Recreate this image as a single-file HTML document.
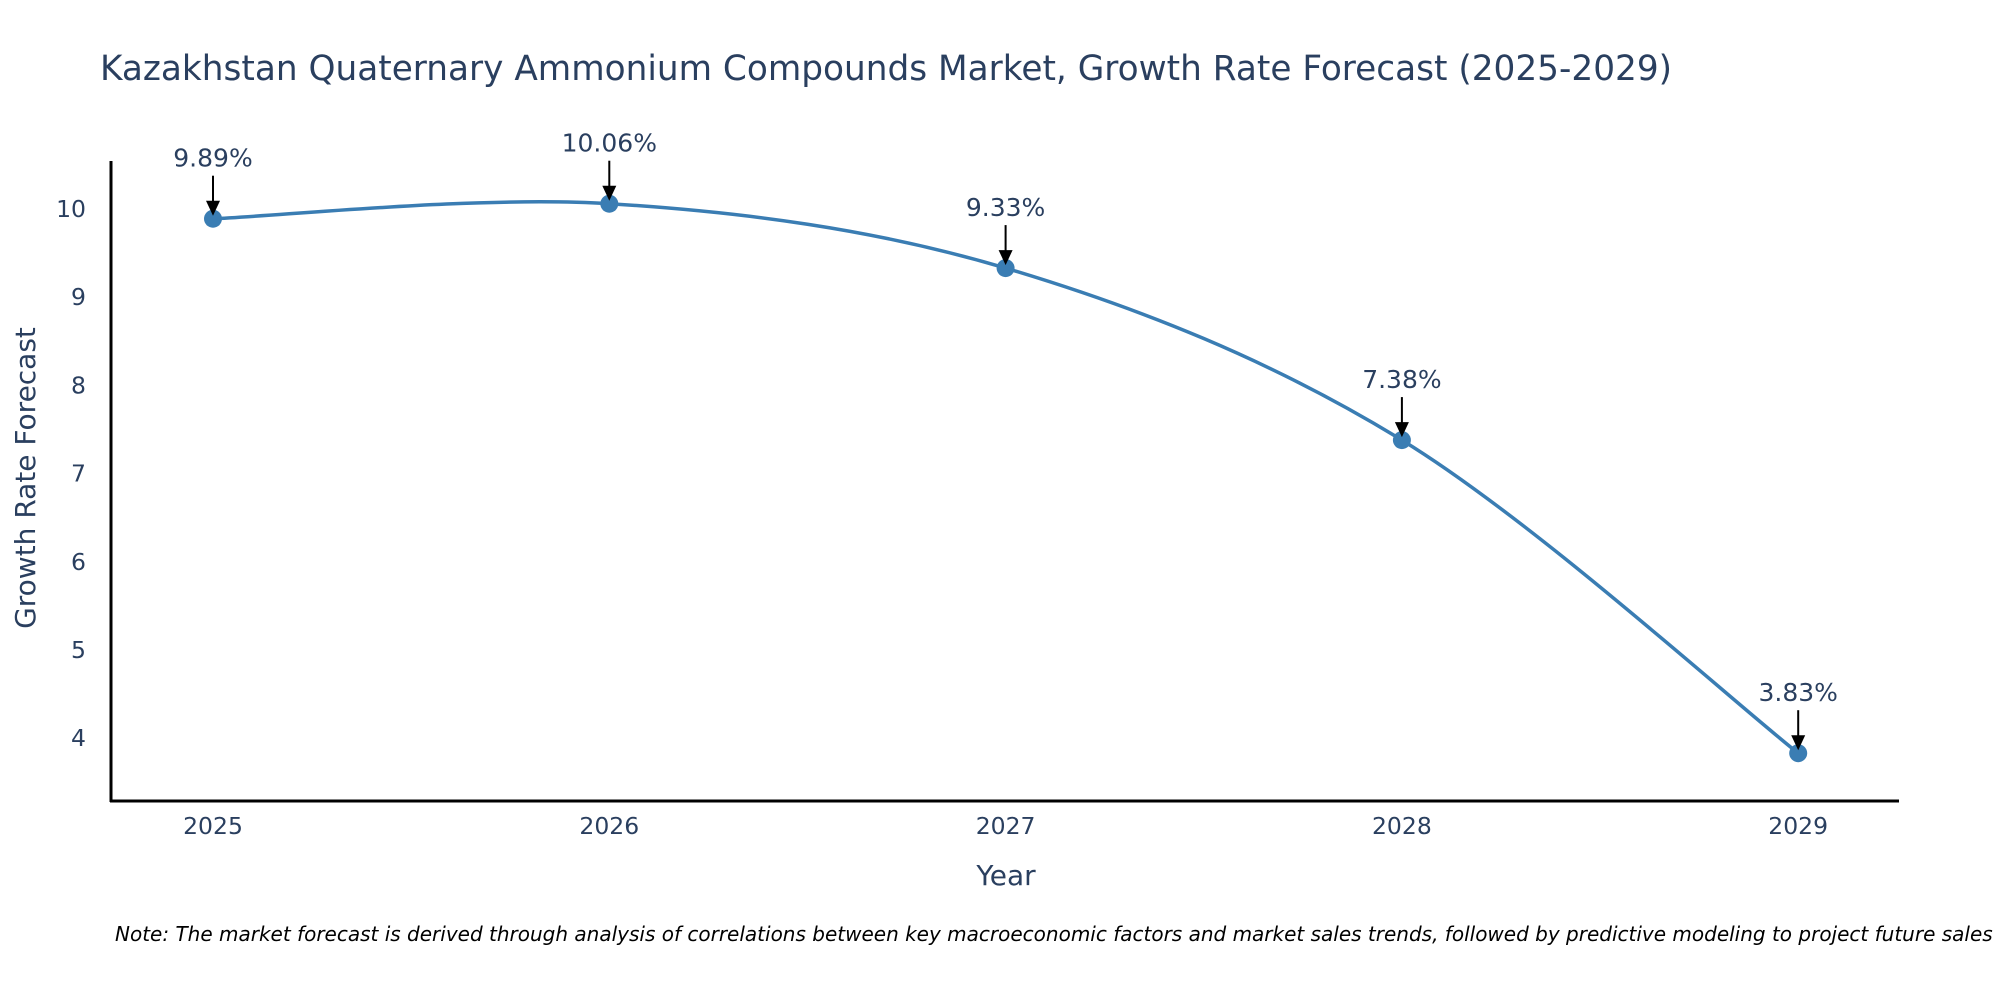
<!DOCTYPE html>
<html><head><meta charset="utf-8"><style>
body{margin:0;background:#fff;width:2000px;height:1000px;overflow:hidden;font-family:"DejaVu Sans","Liberation Sans",sans-serif}
</style></head><body>
<svg id="chart" width="2000" height="1000" xmlns="http://www.w3.org/2000/svg" font-family="DejaVu Sans, Liberation Sans, sans-serif">
<rect width="2000" height="1000" fill="#fff"/>
<text x="100" y="80" font-size="34.3" fill="#2a3f5f">Kazakhstan Quaternary Ammonium Compounds Market, Growth Rate Forecast (2025-2029)</text>
<g id="yticks"></g><g id="xticks"></g>
<path id="line" fill="none" stroke="#3a7db3" stroke-width="3.5"/>
<g id="marks"></g>
<line x1="111" y1="161" x2="111" y2="802" stroke="#000" stroke-width="3"/>
<line x1="110" y1="801" x2="1899" y2="801" stroke="#000" stroke-width="3"/>
<text x="1006" y="885" font-size="28" fill="#2a3f5f" text-anchor="middle">Year</text>
<text transform="translate(35,478) rotate(-90)" font-size="28" fill="#2a3f5f" text-anchor="middle">Growth Rate Forecast</text>
<text x="115" y="941" font-size="20" font-style="italic" fill="#000">Note: The market forecast is derived through analysis of correlations between key macroeconomic factors and market sales trends, followed by predictive modeling to project future sales</text>
</svg>
<script>
const years=["2025","2026","2027","2028","2029"];
const values=[9.89,10.06,9.33,7.38,3.83];
const labels=["9.89%","10.06%","9.33%","7.38%","3.83%"];
const yTicks=[4,5,6,7,8,9,10];
const NS="http://www.w3.org/2000/svg";
const xs=i=>213+i*396.3;
const ys=v=>209+(10-v)*88.2;
function mk(t,a,p){const e=document.createElementNS(NS,t);for(const k in a)e.setAttribute(k,a[k]);p.appendChild(e);return e;}
const yt=document.getElementById('yticks'),xt=document.getElementById('xticks'),mg=document.getElementById('marks');
yTicks.forEach(v=>{const t=mk('text',{x:86,y:ys(v)+8,'font-size':23.5,fill:'#2a3f5f','text-anchor':'end'},yt);t.textContent=v;

});
years.forEach((y,i)=>{const t=mk('text',{x:xs(i),y:834,'font-size':23.5,fill:'#2a3f5f','text-anchor':'middle'},xt);t.textContent=y;

});
const P=values.map((v,i)=>[xs(i),ys(v)]);
let d=`M${P[0][0]},${P[0][1]}`;const s=0.5;
for(let i=0;i<P.length-1;i++){const p0=P[Math.max(i-1,0)],p1=P[i],p2=P[i+1],p3=P[Math.min(i+2,P.length-1)];
const c1=[p1[0]+(p2[0]-p0[0])*s/3,p1[1]+(p2[1]-p0[1])*s/3],c2=[p2[0]-(p3[0]-p1[0])*s/3,p2[1]-(p3[1]-p1[1])*s/3];
d+=` C${c1[0]},${c1[1]} ${c2[0]},${c2[1]} ${p2[0]},${p2[1]}`;}
document.getElementById('line').setAttribute('d',d);
P.forEach((p,i)=>{const c=mk('circle',{cx:p[0],cy:p[1],r:9,fill:'#3a7db3'},mg);


const l=mk('line',{x1:p[0],y1:p[1]-43,x2:p[0],y2:p[1]-16,stroke:'#000','stroke-width':2},mg);


const h=mk('path',{d:`M${p[0]-7},${p[1]-18} L${p[0]+7},${p[1]-18} L${p[0]},${p[1]-3} Z`,fill:'#000'},mg);


const t=mk('text',{x:p[0],y:p[1]-52,'font-size':25,fill:'#2a3f5f','text-anchor':'middle'},mg);t.textContent=labels[i];

});
</script>
</body></html>
